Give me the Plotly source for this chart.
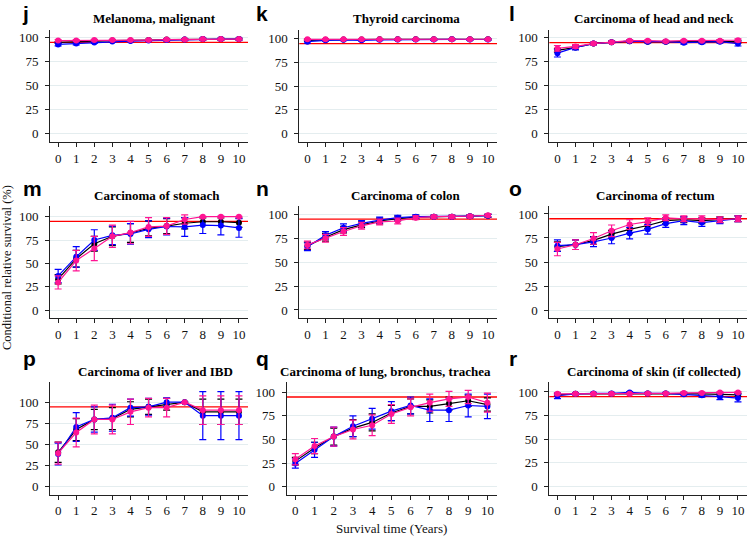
import plotly.graph_objects as go
from plotly.subplots import make_subplots

years = list(range(11))
reference_level = 95

letters = ["j", "k", "l", "m", "n", "o", "p", "q", "r"]
titles = [
    "Melanoma, malignant", "Thyroid carcinoma", "Carcinoma of head and neck",
    "Carcinoma of stomach", "Carcinoma of colon", "Carcinoma of rectum",
    "Carcinoma of liver and IBD", "Carcinoma of lung, bronchus, trachea", "Carcinoma of skin (if collected)",
]

# ---- values (black, blue, pink series) and symmetric error half-widths ----
j_black = [95, 96, 96.5, 97, 97, 97.5, 98, 98, 98.5, 98.5, 98.5]
j_blue = [93, 94, 95, 96, 96.5, 97, 97.5, 98, 98.5, 98.5, 98.5]
j_pink = [97, 97, 97.5, 97.5, 97.5, 97.5, 98, 98, 98.5, 98.5, 98.5]
j_black_err = [1, 1, 1, 0.8, 0.8, 0.8, 0.7, 0.7, 0.7, 0.7, 0.7]
j_blue_err = [1.5, 1.5, 1, 1, 1, 1, 1, 1, 1, 1, 1]
j_pink_err = [1, 1, 0.8, 0.8, 0.8, 0.8, 0.7, 0.7, 0.7, 0.7, 0.7]

k_black = [98.5, 99, 99.3, 99.3, 99.5, 99.5, 99.5, 99.5, 99.5, 99.5, 99.5]
k_blue = [97, 98.5, 99, 98.5, 99, 99.3, 99.3, 99.3, 99.5, 99.3, 99.3]
k_pink = [99.5, 99.5, 99.6, 99.6, 99.6, 99.6, 99.6, 99.6, 99.7, 99.6, 99.6]
k_black_err = [1, 0.8, 0.7, 0.7, 0.6, 0.6, 0.6, 0.6, 0.6, 0.6, 0.6]
k_blue_err = [1.5, 1, 0.8, 1, 0.8, 0.8, 0.8, 0.8, 0.8, 0.8, 0.8]
k_pink_err = [0.8, 0.7, 0.6, 0.6, 0.6, 0.6, 0.6, 0.6, 0.6, 0.6, 0.6]

l_black = [87, 90, 94, 95.5, 96.5, 96, 96, 96, 96, 96.5, 96]
l_blue = [84, 90, 94, 95.5, 96.5, 96, 96, 95, 95.5, 96, 94]
l_pink = [89, 91, 94, 95.5, 97, 97, 96.5, 97, 97, 97, 97.5]
l_black_err = [2, 1.5, 1, 1, 1, 1, 1, 1, 1, 1.2, 1.5]
l_blue_err = [4, 2.5, 1.5, 1.2, 1.2, 1.2, 1.2, 1.5, 1.5, 1.5, 2.5]
l_pink_err = [3, 2, 1.5, 1.2, 1, 1, 1, 1, 1, 1, 1.5]

m_black = [33, 55, 71, 79, 82.5, 87.5, 90, 93, 94.6, 94.6, 93.6]
m_blue = [36.5, 57, 75, 80, 81.5, 86.5, 89.5, 89, 91, 90.5, 88]
m_pink = [29.5, 53, 66, 79, 83, 89, 90, 97, 100, 100, 100]
m_black_err = [5, 9, 8, 10, 10, 8, 8, 6, 4, 4, 5]
m_blue_err = [7, 11, 11, 10, 11, 9, 9, 10, 9, 10, 10]
m_pink_err = [7, 11, 13, 12, 12, 10, 9, 5, 0.5, 0.5, 0.5]

n_black = [67, 76, 84, 89, 93, 95.5, 97, 97.5, 97.5, 98, 98.5]
n_blue = [66, 78, 86, 90.5, 94, 96.5, 97.5, 97.5, 97.5, 98, 98.5]
n_pink = [68, 75, 82, 88, 92, 93, 96.5, 97.5, 97.5, 98, 99]
n_black_err = [4, 4, 3.5, 3, 3, 2.5, 2, 1.5, 1.5, 1.5, 1.5]
n_blue_err = [4, 4, 4, 3, 3, 2.5, 2, 1.5, 1.5, 1.5, 1.5]
n_pink_err = [4, 4, 4, 3.5, 3, 3, 2, 1.5, 1.5, 1.5, 1.5]

o_black = [66, 68, 72.5, 79, 84, 88, 93, 94, 93, 94, 95]
o_blue = [67, 68, 71, 75, 80, 84, 90, 93, 91, 93, 95]
o_pink = [63.5, 68, 74.5, 82.5, 89, 92, 96, 95, 95, 94, 95]
o_black_err = [5, 5, 4, 4, 4, 3, 3, 3, 3, 3, 3]
o_blue_err = [6, 5, 5, 6, 6, 5, 4, 4, 4, 3, 3]
o_pink_err = [7, 5, 6, 6, 5, 4, 3, 3, 3, 3, 3]

p_black = [41, 68, 80, 81, 92, 95, 98, 100.5, 89, 89, 89]
p_blue = [39, 71, 80, 82, 94, 95, 100.5, 100.5, 84.5, 84.5, 84.5]
p_pink = [40, 64.5, 80, 80, 89, 94, 94, 100.5, 91, 91, 91]
p_black_err = [12, 13, 12, 13, 9, 9, 7, 0, 15, 15, 15]
p_blue_err = [13, 17, 15, 16, 10, 10, 5, 0, 28.5, 28.5, 28.5]
p_pink_err = [13, 17, 17, 17, 15, 11, 11, 0, 17, 17, 17]

q_black = [27, 41, 53, 62, 68, 78, 85, 85, 88, 91, 87]
q_blue = [24.5, 39, 53, 64, 72, 80, 86, 81, 81, 86, 85]
q_pink = [29, 43, 53, 60.5, 65, 77, 84, 89, 93, 95, 89]
q_black_err = [4, 6, 9, 9, 9, 8, 8, 7, 7, 6, 7]
q_blue_err = [5, 8, 10, 11, 11, 10, 9, 12, 12, 12, 13]
q_pink_err = [6, 8, 10, 10, 11, 10, 9, 9, 8, 7, 10]

r_black = [97, 98, 98, 98, 98.5, 98.5, 98.5, 98.5, 98, 97.5, 97]
r_blue = [96, 98, 98.5, 98.5, 99.5, 98.5, 98.5, 97.5, 96.5, 95, 93.5]
r_pink = [98, 98, 98, 98, 98, 98.5, 98.5, 99, 99, 99.5, 99.5]
r_black_err = [1, 0.8, 0.8, 0.8, 0.8, 0.8, 0.8, 1, 1.2, 1.5, 1.5]
r_blue_err = [3, 1, 1, 1, 1, 1, 1, 1.5, 2, 3, 4]
r_pink_err = [1, 0.7, 0.7, 0.7, 0.7, 0.7, 0.7, 0.8, 0.8, 0.8, 0.8]

series_values = [
    (j_black, j_blue, j_pink), (k_black, k_blue, k_pink), (l_black, l_blue, l_pink),
    (m_black, m_blue, m_pink), (n_black, n_blue, n_pink), (o_black, o_blue, o_pink),
    (p_black, p_blue, p_pink), (q_black, q_blue, q_pink), (r_black, r_blue, r_pink),
]
series_errors = [
    (j_black_err, j_blue_err, j_pink_err), (k_black_err, k_blue_err, k_pink_err),
    (l_black_err, l_blue_err, l_pink_err), (m_black_err, m_blue_err, m_pink_err),
    (n_black_err, n_blue_err, n_pink_err), (o_black_err, o_blue_err, o_pink_err),
    (p_black_err, p_blue_err, p_pink_err), (q_black_err, q_blue_err, q_pink_err),
    (r_black_err, r_blue_err, r_pink_err),
]
y_ticks = [0, 25, 50, 75, 100]

# ---- layout / style ----
W, H = 747, 536
colors = ["#000000", "#0000ff", "#ff1493"]
serif = "Liberation Serif, Times New Roman, serif"
sans = "Liberation Sans, Arial, sans-serif"

col_px = [(50, 248), (299.3, 497), (549.3, 747)]
row_px = [(29.5, 142), (205.7, 318.3), (382, 494.5)]
x_override = {7: (286.7, 497)}
y_ranges = [(-8.6, 108.5), (-9.1, 109.9), (-8.7, 108.7),
            (-8.9, 111.8), (-8.7, 109), (-8.6, 108.6),
            (-9, 124.4), (-8.4, 110.9), (-8.8, 110.6)]
title_px = [(154.5, 18), (406, 18), (654, 18),
            (157, 195), (406, 195), (655.5, 195),
            (155.8, 371.7), (385.5, 371.7), (654, 371.7)]
letter_px = [(20, 13.5), (254, 13.5), (507, 13.5),
             (21, 188.5), (254, 188.5), (507, 188.5),
             (21, 358.5), (254, 358.5), (507, 358.5)]

fig = make_subplots(rows=3, cols=3)

for i in range(9):
    r, c = i // 3 + 1, i % 3 + 1
    for s in range(3):
        fig.add_trace(go.Scatter(
            x=years, y=series_values[i][s],
            mode="lines+markers",
            line=dict(color=colors[s], width=1.2),
            marker=dict(color=colors[s], size=6),
            error_y=dict(type="data", array=series_errors[i][s], visible=True,
                         color=colors[s], thickness=1.2, width=3.5),
            showlegend=False, hoverinfo="skip",
        ), row=r, col=c)

    xl, xr = x_override.get(i, col_px[c - 1])
    yt, yb = row_px[r - 1]
    sfx = "" if i == 0 else str(i + 1)
    fig.layout["xaxis" + sfx].update(
        domain=[xl / W, xr / W], range=[-0.45, 10.5],
        tickmode="array", tickvals=years, ticktext=[str(v) for v in years],
        showline=True, linecolor="#222222", linewidth=1,
        ticks="outside", ticklen=4, tickcolor="#222222",
        showgrid=False, zeroline=False,
        tickfont=dict(family=serif, size=13, color="#111111"),
    )
    fig.layout["yaxis" + sfx].update(
        domain=[1 - yb / H, 1 - yt / H], range=list(y_ranges[i]),
        tickmode="array", tickvals=y_ticks, ticktext=[str(v) for v in y_ticks],
        showline=True, linecolor="#222222", linewidth=1,
        ticks="outside", ticklen=4, tickcolor="#222222",
        showgrid=True, gridcolor="#e4edef", gridwidth=1, zeroline=False,
        tickfont=dict(family=serif, size=13, color="#111111"),
        ticklabelstandoff=4,
    )
    xref = "x" + sfx
    yref = "y" + sfx
    fig.add_shape(type="line", xref=xref + " domain", yref=yref,
                  x0=0, x1=1, y0=reference_level, y1=reference_level,
                  line=dict(color="#ff0000", width=1.3), layer="below")

    tx, ty = title_px[i]
    fig.add_annotation(x=tx / W, y=1 - ty / H, xref="paper", yref="paper",
                       text="<b>" + titles[i] + "</b>", showarrow=False,
                       xanchor="center", yanchor="middle",
                       font=dict(family=serif, size=13, color="#000000"))
    lx, ly = letter_px[i]
    fig.add_annotation(x=lx / W, y=1 - ly / H, xref="paper", yref="paper",
                       text="<b>" + letters[i] + "</b>", showarrow=False,
                       xanchor="left", yanchor="middle",
                       font=dict(family=sans, size=21, color="#000000"))

fig.add_annotation(x=6.5 / W, y=1 - 267.5 / H, xref="paper", yref="paper",
                   text="Conditional relative survival (%)", showarrow=False,
                   textangle=-90, xanchor="center", yanchor="middle",
                   font=dict(family=serif, size=12.5, color="#111111"))
fig.add_annotation(x=391.7 / W, y=1 - 528 / H, xref="paper", yref="paper",
                   text="Survival time (Years)", showarrow=False,
                   xanchor="center", yanchor="middle",
                   font=dict(family=serif, size=13, color="#111111"))

fig.update_layout(width=W, height=H, margin=dict(l=0, r=0, t=0, b=0),
                  paper_bgcolor="white", plot_bgcolor="white")

fig.write_html("out.html")
